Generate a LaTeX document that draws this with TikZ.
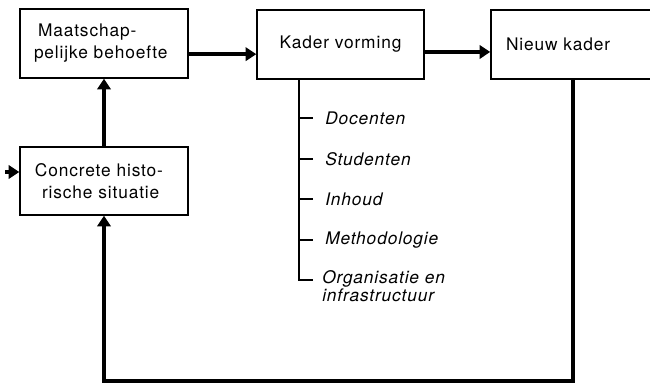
\documentclass[tikz,border=0pt]{standalone}
\usepackage{fontspec}
\setmainfont{TeX Gyre Heros}[LetterSpace=5]
\usetikzlibrary{arrows.meta}

\tikzset{
  blok/.style={draw, line width=1.1pt, minimum height=51.75pt, inner sep=0pt, font=\fontsize{13}{16.5}\selectfont},
  flow/.style={line width=3pt, -{Triangle[length=8pt,width=10pt]}},
  tree/.style={line width=1pt},
  item/.style={anchor=west, inner sep=0pt, font=\fontsize{13}{13.5}\selectfont\itshape, align=left}
}

\begin{document}
\begin{tikzpicture}[x=0.75pt,y=0.75pt,yscale=-1,xscale=1]
\useasboundingbox (0,0) rectangle (650,385);

%Boxes
\node[blok, minimum width=126pt, text width=105pt, align=left] (behoefte) at (104,43.5) {\mbox{\hspace*{3pt}Maatschap-}\\\mbox{pelijke behoefte}};
\node[blok, minimum width=125.25pt] (vorming) at (340.5,44.5) {Kader vorming};
\node[blok, minimum width=126.75pt, text width=104.25pt, align=left] (nieuw) at (575.5,44.5) {Nieuw kader};
\node[blok, minimum width=126pt, minimum height=51pt, text width=105pt, align=left] (situatie) at (104,181) {\mbox{\hspace*{0.75pt}Concrete histo-}\\\mbox{\hspace*{6pt}rische situatie}};

%Arrows
\draw[flow] ([yshift=8pt]behoefte.east) -- ([yshift=8pt]behoefte.east -| vorming.west);
\draw[flow] ([yshift=5.6pt]vorming.east) -- ([yshift=5.6pt]vorming.east -| nieuw.west);
\draw[flow] (situatie.north) -- (behoefte.south);
\coordinate (invoer) at (5,172);
\draw[flow] (invoer) -- (invoer -| situatie.west);
\coordinate (terug) at (573,381);
\draw[flow] (nieuw.south -| terug) -- (terug) -| (situatie.south);

% Text Node
\node[item] (docenten) at (325,118) {Docenten};
% Text Node
\node[item] (studenten) at (325,159) {Studenten};
% Text Node
\node[item] (inhoud) at (325,199) {Inhoud};
% Text Node
\node[item] (methodologie) at (325,240) {Methodologie};
% Text Node
\node[item, anchor=north west] (organisatie) at (322,270) {Organisatie en\\infrastructuur};

%Tree
\coordinate (stem) at (299,79);
\coordinate (stemend) at (299,280);
\draw[tree] (stem) -- (stemend) -- ++(14,0);
\foreach \n in {docenten,studenten,inhoud,methodologie}
  \draw[tree] (stem |- \n.west) -- ++(14,0);

\end{tikzpicture}
\end{document}
